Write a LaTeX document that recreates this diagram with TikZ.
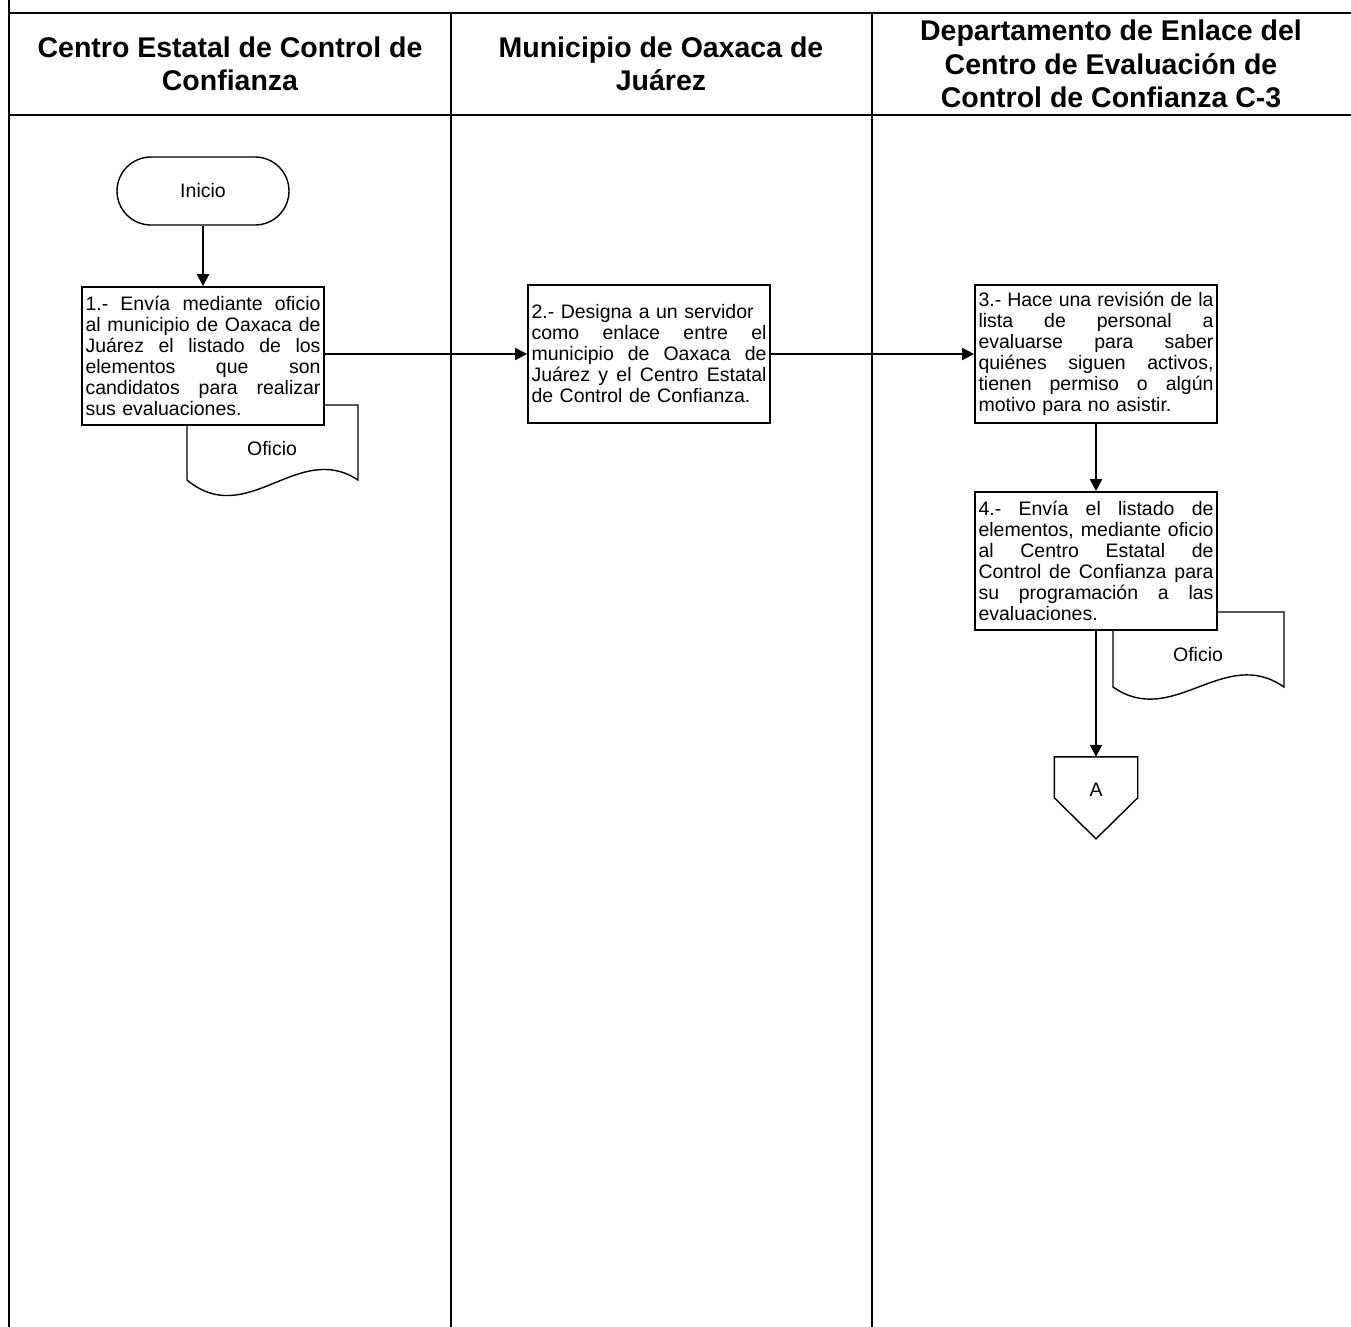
\documentclass[tikz,border=0pt]{standalone}
\usepackage{fontspec}
\setmainfont{Liberation Sans}
\usepackage{tikz}
\usetikzlibrary{arrows.meta,positioning,calc}
% one justified line of a step text
\newcommand{\jl}[1]{\makebox[\linewidth][s]{\spaceskip=\fontdimen2\font plus 1fil\relax #1}}

\begin{document}
\begin{tikzpicture}[x=1pt,y=-1pt,>={Triangle[length=12pt,width=12pt]},
  font=\fontsize{19.5}{21}\selectfont,
  lane/.style={line width=1.7pt},
  frame/.style={line width=2.8pt},
  headtxt/.style={font=\fontsize{28.5}{33.5}\selectfont\bfseries,align=center},
  stepbox/.style={draw,fill=white,line width=1.6pt,text width=235pt,inner xsep=3.5pt,minimum height=138pt,align=left},
  term/.style={draw,line width=1.4pt,rounded corners=34pt,minimum width=172pt,minimum height=68pt},
  doc/.style={draw,fill=white,line width=1.4pt},
  flow/.style={->,line width=1.7pt}]
\useasboundingbox (0,0) rectangle (1351,1326);
% lanes
\draw[frame] (9,0) -- (9,1330);
\draw[frame] (9,13) -- (1356,13);
\draw[frame] (9,115) -- (1356,115);
\draw[lane] (451,13) -- (451,1330);
\draw[lane] (872,13) -- (872,1330);
% header
\node[headtxt] (hd1) at (230,64) {Centro Estatal de Control de\\Confianza};
\node[headtxt] (hd2) at (661,64) {Municipio de Oaxaca de\\Juárez};
\node[headtxt] (hd3) at (1111,64) {Departamento de Enlace del\\Centro de Evaluación de\\Control de Confianza C-3};
% documents behind the steps
\draw[doc] (187,405) -- (358,405) -- (358,480) .. controls (298,440) and (247,530) .. (187,480) -- cycle;
\node (of1) at (272,449) {Oficio};
\draw[doc] (1113,612) -- (1284,612) -- (1284,687) .. controls (1224,645) and (1173,729) .. (1113,687) -- cycle;
\node (of2) at (1198,655) {Oficio};
% steps
\node[term] (ini) at (203,191) {Inicio};
\node[stepbox] (s1) at (203,356) {\jl{1.- Envía mediante oficio}\\ \jl{al municipio de Oaxaca de}\\ \jl{Juárez el listado de los}\\ \jl{elementos que son}\\ \jl{candidatos para realizar}\\ sus evaluaciones.};
\node[stepbox] (s2) at (649,354) {2.- Designa a un servidor\\ \jl{como enlace entre el}\\ \jl{municipio de Oaxaca de}\\ \jl{Juárez y el Centro Estatal}\\ de Control de Confianza.};
\node[stepbox] (s3) at (1096,354) {\jl{3.- Hace una revisión de la}\\ \jl{lista de personal a}\\ \jl{evaluarse para saber}\\ \jl{quiénes siguen activos,}\\ \jl{tienen permiso o algún}\\ motivo para no asistir.};
\node[stepbox] (s4) at (1096,561) {\jl{4.- Envía el listado de}\\ \jl{elementos, mediante oficio}\\ \jl{al Centro Estatal de}\\ \jl{Control de Confianza para}\\ \jl{su programación a las}\\ evaluaciones.};
% off-page connector A
\node[minimum width=83pt,minimum height=66pt,inner sep=0pt] (conA) at (1096,790) {A};
\draw[line width=1.4pt] (conA.north west) -- (conA.north east) -- ($(conA.north east)+(0,41)$)
  -- ($(conA.north)+(0,82)$) -- ($(conA.north west)+(0,41)$) -- cycle;
% flow
\draw[flow] (ini) -- (s1);
\draw[flow] (s1.east |- s2) -- (s2);
\draw[flow] (s2) -- (s3);
\draw[flow] (s3) -- (s4);
\draw[flow] (s4) -- (conA);
\end{tikzpicture}
\end{document}
